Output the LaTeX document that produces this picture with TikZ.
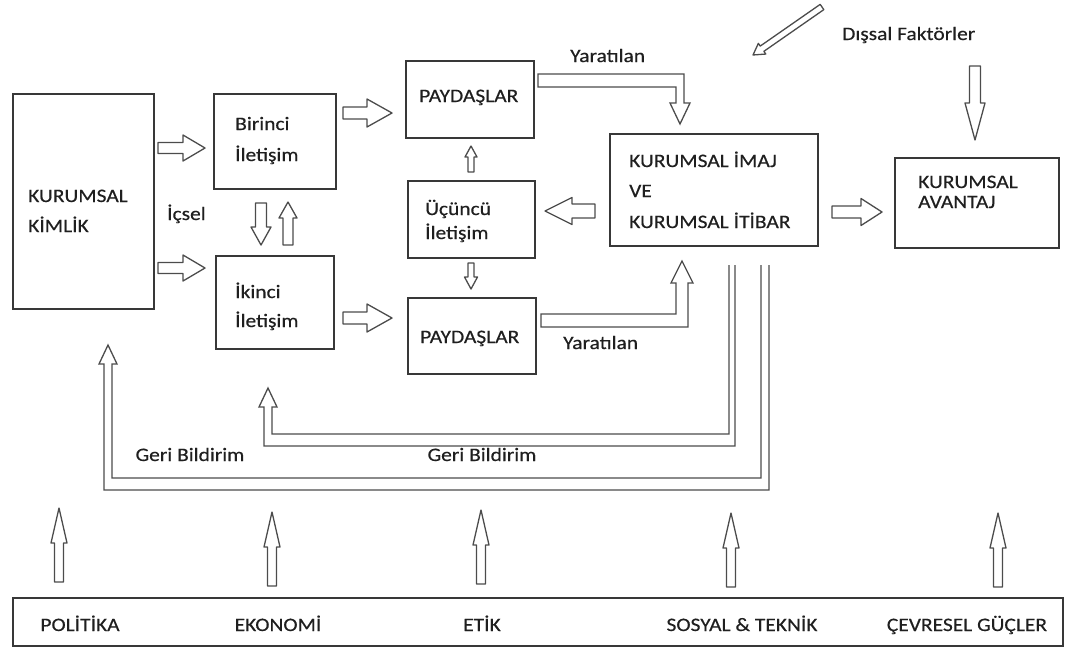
\documentclass[tikz,border=0pt]{standalone}
\usepackage{fontspec}
\setmainfont{Carlito}[FakeStretch=1.13, FakeBold=0.4]
\usetikzlibrary{calc}
\definecolor{boxcol}{gray}{0.22}
\definecolor{arrcol}{gray}{0.30}
\tikzset{
  box/.style={draw=boxcol, line width=1.7pt, inner sep=0pt, anchor=north west},
  blk/.style={draw=arrcol, line width=1.3pt, line join=round, fill=white},
  dbl/.style={draw=arrcol, line width=1.3pt, line join=miter},
  txt/.style={inner sep=0pt, anchor=base west, text=black!88, font=\fontsize{19}{19}\selectfont},
  ctxt/.style={inner sep=0pt, anchor=base, text=black!88, font=\fontsize{19}{19}\selectfont},
}
% hollow block arrow: tail, tip, shaft half-width, head half-width, head length
\newcommand{\barrow}[5]{%
  \draw[blk] let \p1=(#1), \p2=(#2),
      \n1={atan2(\y2-\y1,\x2-\x1)}, \n2={veclen(\x2-\x1,\y2-\y1)} in
    {[shift={(\p1)}, rotate=\n1]
      (0,-#3) -- ({\n2-#5},-#3) -- ({\n2-#5},-#4) -- (\n2,0)
      -- ({\n2-#5},#4) -- ({\n2-#5},#3) -- (0,#3) -- cycle};}
\begin{document}
\begin{tikzpicture}[x=1pt,y=-1pt]
\useasboundingbox (0,0) rectangle (1076,649);

% boxes
\node[box, minimum width=141pt, minimum height=215pt] (kimlik)  at (12,93)  {};
\node[box, minimum width=122pt, minimum height=95pt]  (birinci) at (213,93) {};
\node[box, minimum width=118pt, minimum height=93pt]  (ikinci)  at (215,255) {};
\node[box, minimum width=128pt, minimum height=77pt]  (pay1)    at (405,60) {};
\node[box, minimum width=127pt, minimum height=77pt]  (ucuncu)  at (407,180) {};
\node[box, minimum width=128pt, minimum height=76pt]  (pay2)    at (407,297) {};
\node[box, minimum width=208pt, minimum height=112pt] (imaj)    at (609,133) {};
\node[box, minimum width=164pt, minimum height=90pt]  (avantaj) at (894,157) {};
\node[box, minimum width=1050pt, minimum height=48pt] (cevre)   at (12,597) {};

% box texts
\node[txt] (t1) at (28,202) {KURUMSAL};
\node[txt] (t2) at (28,232) {KİMLİK};
\node[txt] (t3) at (235,130) {Birinci};
\node[txt] (t4) at (235,161) {İletişim};
\node[txt] (t5) at (235,298) {İkinci};
\node[txt] (t6) at (235,327) {İletişim};
\node[txt] (t7) at (419,102) {PAYDAŞLAR};
\node[txt] (t8) at (425,215) {Üçüncü};
\node[txt] (t9) at (425,239) {İletişim};
\node[txt] (t10) at (420,343) {PAYDAŞLAR};
\node[txt] (t11) at (629,167) {KURUMSAL İMAJ};
\node[txt] (t12) at (629,197) {VE};
\node[txt] (t13) at (629,228) {KURUMSAL İTİBAR};
\node[txt] (t14) at (918,188) {KURUMSAL};
\node[txt] (t15) at (918,208) {AVANTAJ};

% free labels
\node[txt] (icsel) at (167,220) {İçsel};
\node[txt] (dissal) at (842,40) {Dışsal Faktörler};
\node[txt] (yar1) at (570,62) {Yaratılan};
\node[txt] (yar2) at (563,349) {Yaratılan};
\node[ctxt] (geri1) at (190,461) {Geri Bildirim};
\node[ctxt] (geri2) at (482,461) {Geri Bildirim};

% bottom labels
\node[ctxt] (b1) at (80,631)  {POLİTİKA};
\node[ctxt] (b2) at (278,631) {EKONOMİ};
\node[ctxt] (b3) at (482,631) {ETİK};
\node[ctxt] (b4) at (742,631) {SOSYAL \& TEKNİK};
\node[ctxt] (b5) at (967,631) {ÇEVRESEL GÜÇLER};

% block arrows between boxes
\barrow{158,148}{205,148}{5.5}{13}{22}
\barrow{158,268}{205,268}{5.5}{13}{22}
\barrow{343,113}{392,113}{6}{14}{25}
\barrow{343,318}{392,318}{6}{14}{25}
\barrow{261,203}{261,245}{5.5}{10}{18}
\barrow{288,245}{288,202}{5}{9}{16}
\barrow{471,172}{471,146}{3}{6}{11}
\barrow{471,263}{471,289}{3}{6.5}{12}
\barrow{595,211}{545,211}{7}{13.5}{27}
\barrow{832,212}{882,212}{6}{13.5}{21}

% external factors
\barrow{822,7}{753,55}{3.2}{6.5}{11}
\barrow{975,66}{975,140}{5.5}{10}{37}

% environment arrows
\barrow{59,582}{59,508}{4.5}{8}{35}
\barrow{272,586}{272,512}{4.5}{8}{35}
\barrow{481,584}{481,510}{4.5}{8}{35}
\barrow{731,587}{731,513}{4.5}{8}{35}
\barrow{998,587}{998,513}{4.5}{8}{35}

% "Yaratilan" bent arrows
\draw[dbl] (538,74) -- (684,74) -- (684,103) -- (690,103) -- (680,124)
  -- (670,103) -- (676,103) -- (676,87) -- (538,87) -- cycle;
\draw[dbl] (541,327) -- (688,327) -- (688,283) -- (693,283) -- (682,261)
  -- (671,283) -- (676,283) -- (676,314) -- (541,314) -- cycle;

% feedback loops
\draw[dbl] (735,265) -- (735,446) -- (264,446) -- (264,407) -- (259,407)
  -- (268,388) -- (277,407) -- (272,407) -- (272,434) -- (729,434) -- (729,265);
\draw[dbl] (769,265) -- (769,490) -- (104,490) -- (104,364) -- (99,364)
  -- (108,345) -- (117,364) -- (112,364) -- (112,478) -- (761,478) -- (761,265);
\end{tikzpicture}
\end{document}
